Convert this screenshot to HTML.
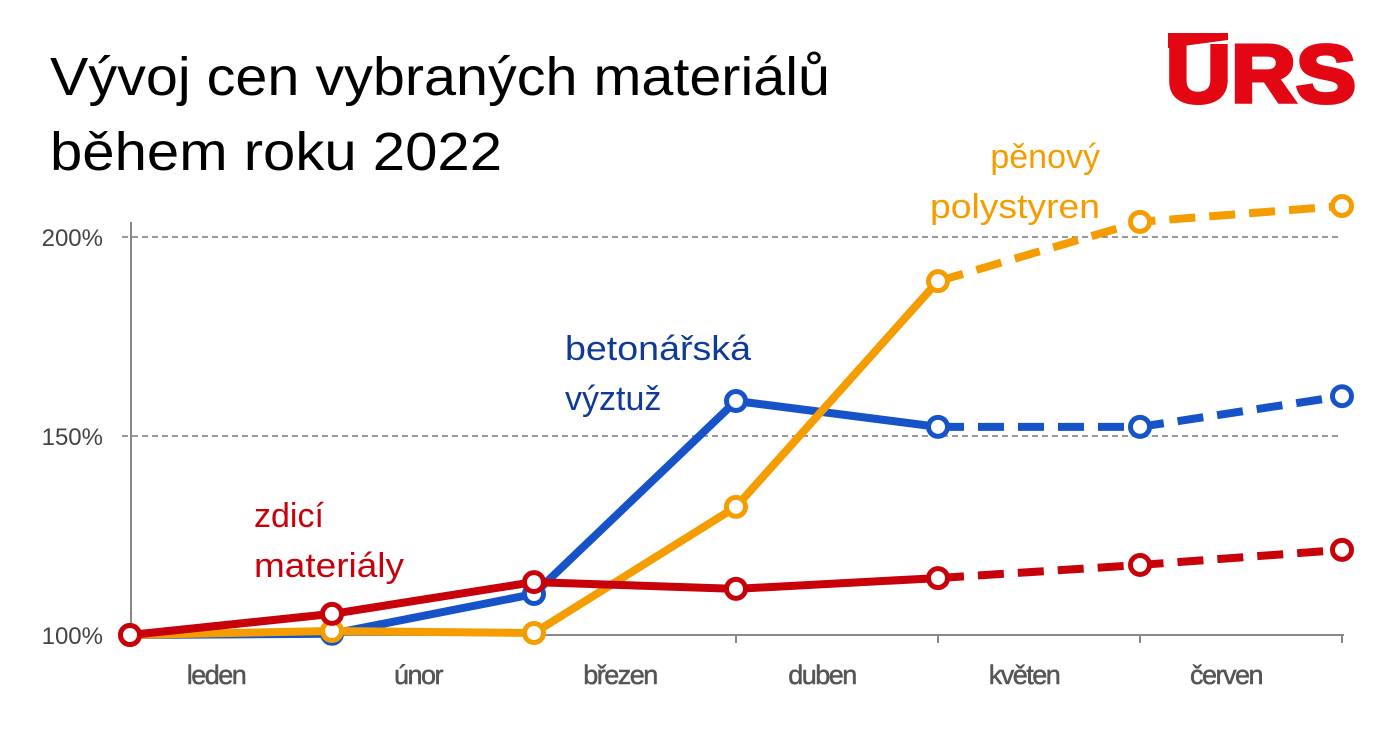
<!DOCTYPE html>
<html><head><meta charset="utf-8"><style>
body{margin:0;background:#fff;width:1389px;height:727px;overflow:hidden;font-family:"Liberation Sans",sans-serif}
</style></head><body>
<svg width="1389" height="727" xmlns="http://www.w3.org/2000/svg">
<text x="50" y="95" font-size="54" fill="#000" textLength="780" lengthAdjust="spacingAndGlyphs">Vývoj cen vybraných materiálů</text>
<text x="50" y="170" font-size="54" fill="#000" textLength="452" lengthAdjust="spacingAndGlyphs">během roku 2022</text>
<g>
<polygon points="1168,33 1228,33 1228,40 1168,48" fill="#e30613"/>
<text x="1166" y="102" font-size="82" font-weight="bold" fill="#e30613" stroke="#e30613" stroke-width="4" textLength="190" lengthAdjust="spacingAndGlyphs">URS</text>
</g>
<g id="grid"></g><g id="axes"></g><g id="series"></g>
<text x="565" y="360" font-size="34" fill="#0f3a99" textLength="186" lengthAdjust="spacingAndGlyphs">betonářská</text>
<text x="565" y="410" font-size="34" fill="#0f3a99">výztuž</text>
<text x="1100" y="168" font-size="34" fill="#f59d00" text-anchor="end">pěnový</text>
<text x="1100" y="218" font-size="34" fill="#f59d00" text-anchor="end" textLength="170" lengthAdjust="spacingAndGlyphs">polystyren</text>
<text x="254" y="527" font-size="34" fill="#c8000a">zdicí</text>
<text x="254" y="577" font-size="34" fill="#c8000a" textLength="150" lengthAdjust="spacingAndGlyphs">materiály</text>
</svg>
<script>
const categories=["leden","únor","březen","duben","květen","červen"];
const red=[100,105.3,113.3,111.6,114.3,117.6,121.4];
const blue=[100,100.3,110.3,158.8,152.3,152.3,160];
const orange=[100,101,100.5,132.2,188.9,203.8,207.8];
const yTicks=[100,150,200];
const dashFrom=4;
const NS="http://www.w3.org/2000/svg";
const X=i=>130+i*202;
const Y=v=>635-(v-100)*3.98;
function mk(p,t,a){const e=document.createElementNS(NS,t);for(const k in a)e.setAttribute(k,a[k]);p.appendChild(e);return e;}
const grid=document.getElementById('grid'),axes=document.getElementById('axes'),ser=document.getElementById('series');
yTicks.forEach(v=>{
 if(v>100){const l=mk(grid,'line',{x1:122,x2:1342,y1:Y(v),y2:Y(v),stroke:'#777','stroke-width':1.5,'stroke-dasharray':'6,4'});
 
 }
 const t=mk(axes,'text',{x:103,y:Y(v)+9,'font-size':24,fill:'#444','text-anchor':'end'});t.textContent=v+'%';
 
 
});
let a=mk(axes,'line',{x1:131,x2:131,y1:222,y2:635,stroke:'#888','stroke-width':2});


a=mk(axes,'line',{x1:122,x2:1344,y1:635,y2:635,stroke:'#888','stroke-width':2});


categories.forEach((c,i)=>{
 const t=mk(axes,'text',{x:(X(i)+X(i+1))/2-15,y:684,'font-size':27,fill:'#555','text-anchor':'middle','letter-spacing':'-1.5',stroke:'#555','stroke-width':0.5});t.textContent=c;
 
 
 const k=mk(axes,'line',{x1:X(i+1),x2:X(i+1),y1:635,y2:643,stroke:'#888','stroke-width':2});
 
 
});
function draw(d,col,name){
 const g=mk(ser,'g',{});
 
 
 const s=d.slice(0,dashFrom+1).map((v,i)=>X(i)+','+Y(v)).join(' ');
 const ds=d.slice(dashFrom).map((v,i)=>X(i+dashFrom)+','+Y(v)).join(' ');
 mk(g,'polyline',{points:s,fill:'none',stroke:col,'stroke-width':8,'stroke-linejoin':'round'});
 mk(g,'polyline',{points:ds,fill:'none',stroke:col,'stroke-width':8,'stroke-dasharray':'26,14'});
 d.forEach((v,i)=>{const c=mk(g,'circle',{cx:X(i),cy:Y(v),r:9.5,fill:'#fff',stroke:col,'stroke-width':5});
 
 });
}
draw(blue,'#1653c8','blue');
draw(orange,'#f59d00','orange');
draw(red,'#c8000a','red');
</script>
</body></html>
